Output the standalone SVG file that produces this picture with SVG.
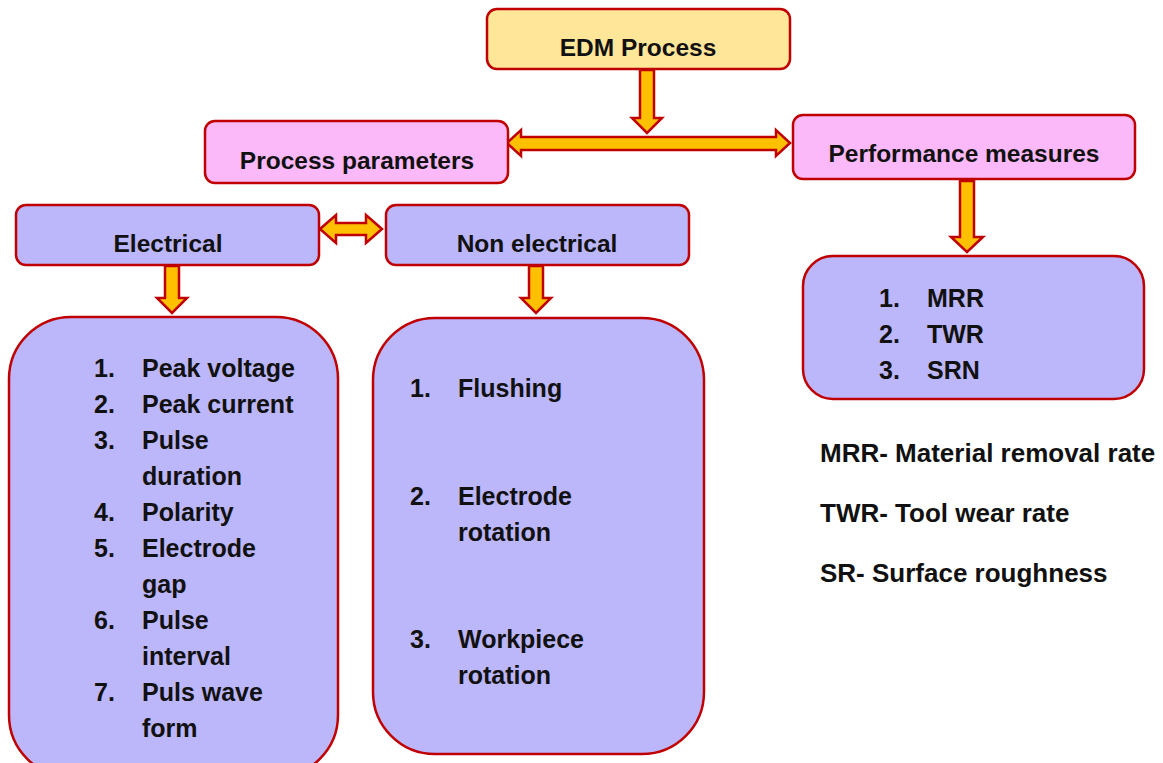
<svg xmlns="http://www.w3.org/2000/svg" width="1163" height="763" viewBox="0 0 1163 763">
<style>
.box{stroke:#C00000;stroke-width:2.5}
.y{fill:#FFE699}
.p{fill:#FBB9FA}
.l{fill:#BCB6FA}
.arr{fill:#FFC000;stroke:#C00000;stroke-width:2.5;stroke-linejoin:miter}
text{font-family:"Liberation Sans",Arial,sans-serif;font-weight:bold;font-size:24.5px;fill:#111}
.c{text-anchor:middle}
.it{font-size:25px}
.lg{font-size:26px}
</style>
<rect width="1163" height="763" fill="#fff"/>
<g id="connectors">
<polygon class="arr" points="640,70 654,70 654,118 662,118 647,133 632,118 640,118"/>
<polygon class="arr" points="507,143 521,130 521,137 776,137 776,130 790,143 776,156 776,150 521,150 521,156"/>
<polygon class="arr" points="320,229 336,215 336,223 366,223 366,215 382,229 366,243 366,235 336,235 336,243"/>
<polygon class="arr" points="165,266 179,266 179,298 187,298 172,313 157,298 165,298"/>
<polygon class="arr" points="529,266 543,266 543,298 551,298 536,313 521,298 529,298"/>
<polygon class="arr" points="960,181 974,181 974,237 983,237 967,252 951,237 960,237"/>
</g>
<g id="edm">
<rect class="box y" x="487" y="9" width="303" height="60" rx="10"/>
<text class="c" x="638" y="56">EDM Process</text>
</g>
<g id="process-parameters">
<rect class="box p" x="205" y="121" width="303" height="62" rx="10"/>
<text class="c" x="357" y="169">Process parameters</text>
</g>
<g id="performance-measures">
<rect class="box p" x="793" y="115" width="342" height="64" rx="10"/>
<text class="c" x="964" y="162">Performance measures</text>
</g>
<g id="electrical">
<rect class="box l" x="16" y="205" width="303" height="60" rx="10"/>
<text class="c" x="168" y="252">Electrical</text>
</g>
<g id="non-electrical">
<rect class="box l" x="386" y="205" width="303" height="60" rx="10"/>
<text class="c" x="537" y="252">Non electrical</text>
</g>
<g id="electrical-list" class="it">
<rect class="box l" x="9" y="317" width="329" height="460" rx="62"/>
<text class="it" x="94" y="377">1.</text><text class="it" x="142" y="377">Peak voltage</text>
<text class="it" x="94" y="413">2.</text><text class="it" x="142" y="413">Peak current</text>
<text class="it" x="94" y="449">3.</text><text class="it" x="142" y="449">Pulse</text>
<text class="it" x="142" y="485">duration</text>
<text class="it" x="94" y="521">4.</text><text class="it" x="142" y="521">Polarity</text>
<text class="it" x="94" y="557">5.</text><text class="it" x="142" y="557">Electrode</text>
<text class="it" x="142" y="593">gap</text>
<text class="it" x="94" y="629">6.</text><text class="it" x="142" y="629">Pulse</text>
<text class="it" x="142" y="665">interval</text>
<text class="it" x="94" y="701">7.</text><text class="it" x="142" y="701">Puls wave</text>
<text class="it" x="142" y="737">form</text>
</g>
<g id="non-electrical-list">
<rect class="box l" x="373" y="318" width="331" height="436" rx="62"/>
<text class="it" x="410" y="397">1.</text><text class="it" x="458" y="397">Flushing</text>
<text class="it" x="410" y="505">2.</text><text class="it" x="458" y="505">Electrode</text>
<text class="it" x="458" y="541">rotation</text>
<text class="it" x="410" y="648">3.</text><text class="it" x="458" y="648">Workpiece</text>
<text class="it" x="458" y="684">rotation</text>
</g>
<g id="performance-list">
<rect class="box l" x="803" y="256" width="341" height="143" rx="30"/>
<text class="it" x="879" y="307">1.</text><text class="it" x="927" y="307">MRR</text>
<text class="it" x="879" y="343">2.</text><text class="it" x="927" y="343">TWR</text>
<text class="it" x="879" y="379">3.</text><text class="it" x="927" y="379">SRN</text>
</g>
<g id="legend">
<text class="lg" x="820" y="462">MRR- Material removal rate</text>
<text class="lg" x="820" y="522">TWR- Tool wear rate</text>
<text class="lg" x="820" y="582">SR- Surface roughness</text>
</g>
</svg>
